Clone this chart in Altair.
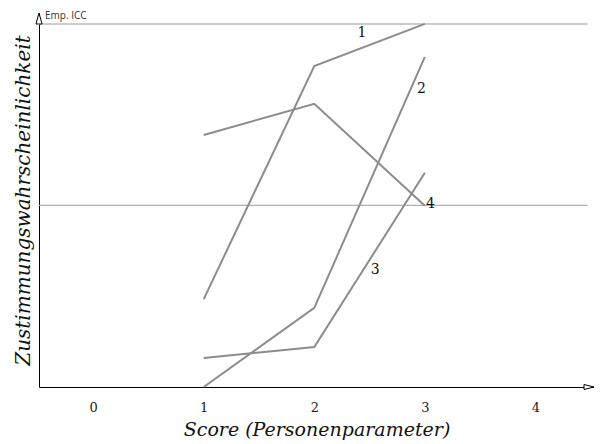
import altair as alt
import pandas as pd

scores = [1, 2, 3]
item1 = [0.242, 0.884, 1.0]
item2 = [0.0, 0.218, 0.909]
item3 = [0.080, 0.110, 0.590]
item4 = [0.694, 0.780, 0.499]
items = ["1", "2", "3", "4"]

label_names = ["1", "2", "3", "4"]
label_x = [2.43, 2.97, 2.55, 3.05]
label_y = [0.975, 0.821, 0.322, 0.504]

grid_levels = [0.5, 1.0]
grid_colors = ["#b0b0b0", "#cccccc"]
grid_widths = [1.2, 2.0]

x_ticks = [0, 1, 2, 3, 4]
x_domain = [-0.49, 4.53]
y_domain = [0.0, 1.03]
grid_end = 4.47

rows = []
for name, vals in zip(items, [item1, item2, item3, item4]):
    for s, v in zip(scores, vals):
        rows.append({"item": name, "score": s, "p": v})
lines_df = pd.DataFrame(rows)

labels_df = pd.DataFrame({"name": label_names, "x": label_x, "y": label_y})
grid_df = pd.DataFrame({"y": grid_levels, "x0": [x_domain[0]] * 2, "x1": [grid_end] * 2,
                        "c": grid_colors, "w": grid_widths})

xs = alt.Scale(domain=x_domain, nice=False, zero=False)
ys = alt.Scale(domain=y_domain, nice=False, zero=False)

serif = "DejaVu Serif"

x_axis = alt.Axis(values=x_ticks, format="d", ticks=False, grid=False, labelFont=serif, labelFontSize=13,
                  labelPadding=14, labelColor="#222", domainColor="black", domainWidth=1,
                  title="Score (Personenparameter)", titleFont=serif, titleFontStyle="italic",
                  titleFontWeight="normal", titleFontSize=19, titlePadding=6, titleColor="#111")
y_axis = alt.Axis(ticks=False, grid=False, labels=False, domainColor="black", domainWidth=1,
                  title="Zustimmungswahrscheinlichkeit", titleFont=serif, titleFontStyle="italic",
                  titleFontWeight="normal", titleFontSize=20, titlePadding=6, titleColor="#111")

base_axes = alt.Chart(pd.DataFrame({"x": [x_domain[0]], "y": [y_domain[0]]})).mark_point(opacity=0).encode(
    x=alt.X("x:Q", scale=xs, axis=x_axis),
    y=alt.Y("y:Q", scale=ys, axis=y_axis),
)

grid = alt.Chart(grid_df).mark_rule().encode(
    x=alt.X("x0:Q", scale=xs),
    x2="x1:Q",
    y=alt.Y("y:Q", scale=ys),
    color=alt.Color("c:N", scale=None),
    strokeWidth=alt.StrokeWidth("w:Q", scale=None),
)

lines = alt.Chart(lines_df).mark_line(color="#8c8c8c", strokeWidth=2).encode(
    x=alt.X("score:Q", scale=xs),
    y=alt.Y("p:Q", scale=ys),
    detail="item:N",
)

texts = alt.Chart(labels_df).mark_text(font=serif, fontSize=14, color="#111").encode(
    x=alt.X("x:Q", scale=xs),
    y=alt.Y("y:Q", scale=ys),
    text="name:N",
)

corner = pd.DataFrame({"x": [x_domain[0]], "y": [y_domain[1]], "t": ["Emp. ICC"]})
emp = alt.Chart(corner).mark_text(font="Open Sans", fontSize=10, align="left", baseline="middle",
                                  dx=6, dy=3, color="#333").encode(
    x=alt.X("x:Q", scale=xs), y=alt.Y("y:Q", scale=ys), text="t:N")

up_arrow = alt.Chart(corner).mark_point(shape="M0,0L-0.55,2L0.55,2Z", size=121, filled=True,
                                        fill="white", stroke="black", strokeWidth=1, opacity=1).encode(
    x=alt.X("x:Q", scale=xs), y=alt.Y("y:Q", scale=ys))

right = pd.DataFrame({"x": [x_domain[1]], "y": [y_domain[0]]})
right_arrow = alt.Chart(right).mark_point(shape="M0,0L-2,-0.5L-2,0.5Z", size=100, filled=True,
                                          fill="white", stroke="black", strokeWidth=1, opacity=1).encode(
    x=alt.X("x:Q", scale=xs), y=alt.Y("y:Q", scale=ys))

chart = alt.layer(base_axes, grid, lines, texts, emp, up_arrow, right_arrow).properties(
    width=555, height=374,
    padding={"left": 31, "top": 5, "right": 0, "bottom": 56},
    autosize=alt.AutoSizeParams(type="none"),
    background="white",
).configure_view(stroke="transparent", strokeWidth=0)

chart.save("out.html", embed_options={"renderer": "svg", "actions": False})
